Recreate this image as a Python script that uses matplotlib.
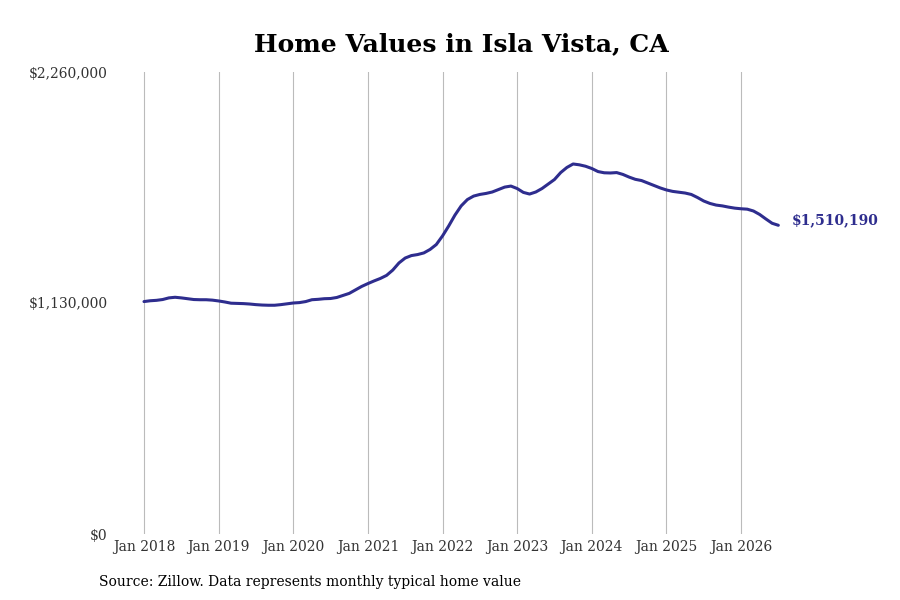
import matplotlib.pyplot as plt
import numpy as np

# monthly typical home value, Jan 2018 .. Jul 2026
values_2018 = [1137000, 1141000, 1143000, 1147000, 1155000, 1158000,
               1155000, 1151000, 1147000, 1146000, 1146000, 1144000]
values_2019 = [1140000, 1135000, 1129000, 1128000, 1127000, 1125000,
               1122000, 1120000, 1119000, 1119000, 1122000, 1126000]
values_2020 = [1130000, 1132000, 1137000, 1146000, 1148000, 1151000,
               1152000, 1157000, 1167000, 1177000, 1194000, 1211000]
values_2021 = [1225000, 1238000, 1250000, 1265000, 1291000, 1326000,
               1350000, 1362000, 1367000, 1375000, 1392000, 1416000]
values_2022 = [1458000, 1507000, 1560000, 1605000, 1636000, 1653000,
               1661000, 1666000, 1673000, 1685000, 1697000, 1702000]
values_2023 = [1690000, 1671000, 1663000, 1673000, 1690000, 1712000,
               1734000, 1768000, 1793000, 1810000, 1806000, 1799000]
values_2024 = [1788000, 1773000, 1767000, 1766000, 1768000, 1759000,
               1746000, 1735000, 1729000, 1717000, 1705000, 1693000]
values_2025 = [1683000, 1676000, 1672000, 1668000, 1661000, 1646000,
               1629000, 1617000, 1609000, 1605000, 1599000, 1594000]
values_2026 = [1591000, 1589000, 1580000, 1563000, 1541000, 1520000, 1510190]

values = (values_2018 + values_2019 + values_2020 + values_2021 + values_2022
          + values_2023 + values_2024 + values_2025 + values_2026)
years = list(range(2018, 2027))
tick_labels = ['Jan %d' % y for y in years]
y_ticks = [0, 1130000, 2260000]

line_color = '#2e2d8e'
plt.rcParams['font.family'] = 'DejaVu Serif'

fig = plt.figure(figsize=(9, 6), dpi=100)
ax = fig.add_axes([120 / 900, 66 / 600, 680 / 900, 462 / 600])

months = np.arange(len(values))
ax.plot(months, values, color=line_color, linewidth=2.2, solid_capstyle='round')

ax.set_xlim(-24 / 6.219, 656 / 6.219)
ax.set_ylim(0, 2260000)
ax.set_xticks([12 * i for i in range(len(years))])
ax.set_xticklabels(tick_labels)
ax.set_yticks(y_ticks)
ax.set_yticklabels(['$%s' % format(v, ',') for v in y_ticks])
ax.tick_params(length=0, labelsize=10, colors='#333333')
ax.tick_params(axis='y', pad=9)
ax.tick_params(axis='x', pad=4)
ax.grid(axis='x', color='#bbbbbb', linewidth=0.8)
ax.grid(axis='y', visible=False)
for s in ax.spines.values():
    s.set_visible(False)

ax.annotate('$%s' % format(values[-1], ','), xy=(months[-1], values[-1]),
            xytext=(10, 3.6), textcoords='offset points', va='center', ha='left',
            color=line_color, fontsize=10, fontweight='bold', annotation_clip=False)

fig.text(461 / 900, 1 - 44 / 600, 'Home Values in Isla Vista, CA', ha='center', va='center',
         fontsize=18, fontweight='bold')
fig.text(99 / 900, 1 - 582 / 600, 'Source: Zillow. Data represents monthly typical home value',
         ha='left', va='center', fontsize=10)

fig.savefig('out.png', dpi=100)
